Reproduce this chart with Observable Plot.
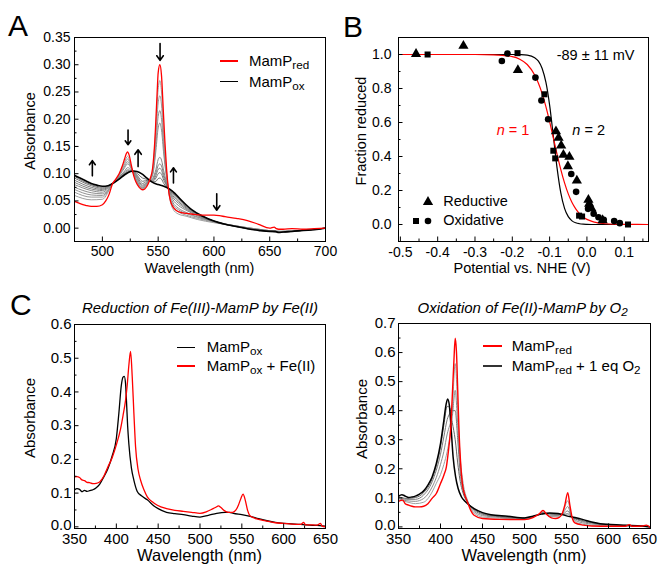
<!DOCTYPE html>
<html><head><meta charset="utf-8">
<script src="https://cdn.jsdelivr.net/npm/d3@7"></script>
<script src="https://cdn.jsdelivr.net/npm/@observablehq/plot@0.6"></script>
<style>
body{margin:0;background:#fff;}
#fig{position:relative;width:661px;height:565px;overflow:hidden;font-family:"Liberation Sans",Arial,Helvetica,sans-serif;}
.t{position:absolute;white-space:nowrap;line-height:1;color:#000;}
.sub{font-size:0.78em;position:relative;top:0.26em;}
</style></head><body><div id="fig"></div>
<script>
// ---------------- Panel A data ----------------
const aRedWl = [475,480,485,490,495,500,503,506,509,512,515,518,520,521.5,522.5,524,526,528,530,533,536,538,541,543,545,547,549,550,551.5,553,554.5,556,557.5,559,561,563,566,570,580,590,600,605,610,620,630,640,650,654,656,658,662,670,680,690,700];
const aRedAbs = [0.049,0.045,0.042,0.040,0.040,0.043,0.050,0.062,0.081,0.090,0.100,0.115,0.128,0.137,0.140,0.134,0.115,0.097,0.085,0.075,0.0705,0.072,0.081,0.092,0.110,0.160,0.245,0.285,0.300,0.280,0.220,0.160,0.110,0.075,0.050,0.040,0.033,0.029,0.026,0.024,0.024,0.023,0.021,0.018,0.014,0.007,0.000,0.002,-0.001,-0.002,-0.002,-0.001,-0.002,-0.001,0.000];
const aOxWl = [475,480,485,490,495,500,505,510,515,520,525,528,531,535,540,545,550,555,560,565,570,575,580,590,600,610,620,630,640,650,655,658,662,670,680,690,700];
const aOxAbs = [0.097,0.092,0.087,0.082,0.079,0.077,0.078,0.083,0.090,0.098,0.104,0.105,0.104,0.100,0.092,0.084,0.080,0.077,0.072,0.064,0.053,0.043,0.034,0.022,0.013,0.007,0.003,-0.001,-0.004,-0.006,-0.006,-0.008,-0.007,-0.006,-0.004,-0.003,0.000];
const aGreyWl = [475,490,500,509,515,520,522.5,526,530,536,541,545,548,550,551.5,553,555,559,563,568,575,585,600,620,640,660,680,700];
const aGrey1 = [.060,.052,.053,.081,.099,.122,.132,.112,.087,.072,.082,.105,.188,.255,.271,.250,.172,.074,.036,.026,.022,.016,.010,.004,-.002,-.006,-.004,0];
const aGrey2 = [.066,.057,.057,.081,.098,.118,.127,.111,.089,.073,.083,.102,.170,.230,.243,.226,.158,.074,.040,.030,.024,.018,.011,.004,-.002,-.006,-.004,0];
const aGrey3 = [.071,.061,.060,.081,.097,.114,.122,.110,.090,.074,.084,.099,.155,.205,.216,.200,.146,.074,.044,.034,.027,.020,.012,.004,-.002,-.006,-.004,0];
const aGrey4 = [.075,.065,.063,.081,.096,.111,.118,.109,.091,.075,.085,.097,.143,.184,.193,.180,.136,.074,.048,.037,.029,.021,.012,.004,-.003,-.006,-.004,0];
const aGrey5 = [.080,.069,.066,.082,.094,.105,.111,.107,.094,.077,.085,.091,.108,.126,.130,.125,.105,.074,.053,.042,.033,.023,.012,.003,-.003,-.007,-.004,0];
const aGrey6 = [.084,.072,.069,.082,.093,.103,.107,.106,.096,.079,.086,.089,.102,.115,.118,.114,.098,.073,.057,.046,.035,.024,.012,.003,-.003,-.007,-.004,0];
const aGrey7 = [.088,.075,.071,.082,.092,.101,.105,.105,.098,.082,.087,.087,.097,.108,.110,.106,.093,.073,.060,.049,.037,.025,.013,.003,-.003,-.007,-.004,0];
const aGrey8 = [.092,.078,.073,.082,.091,.100,.103,.104,.100,.086,.088,.086,.092,.100,.102,.099,.088,.073,.063,.052,.039,.026,.013,.003,-.004,-.007,-.004,0];
const aGrey9 = [.095,.080,.075,.082,.090,.099,.102,.104,.102,.092,.089,.085,.086,.091,.092,.090,.082,.073,.065,.055,.041,.027,.013,.003,-.004,-.007,-.004,0];
const aArrowWl = [491,523,532,551.7,563.7,602.5];
const aArrowFrom = [0.096,0.180,0.113,0.339,0.083,0.063];
const aArrowTo = [0.124,0.153,0.144,0.308,0.111,0.033];
const aXTicks = [500,550,600,650,700];
const aXMinor = [525,575,625,675];
const aYTicks = [0,0.05,0.10,0.15,0.20,0.25,0.30,0.35];
const aYMinor = [0.025,0.075,0.125,0.175,0.225,0.275,0.325];

// ---------------- Panel B data ----------------
const bRedV = [-0.458,-0.331,-0.185,-0.083,-0.076,-0.069,-0.063,-0.047,-0.051,-0.027,0.004,0.006,0.012,0.042];
const bRedF = [1.003,1.051,0.908,0.548,0.510,0.464,0.410,0.398,0.343,0.258,0.145,0.122,0.095,0.025];
const bSqV = [-0.427,-0.186,-0.114,-0.090,-0.085,-0.021,-0.013,0.110];
const bSqF = [1.0,1.008,0.766,0.434,0.389,0.052,0.047,0.0];
const bCiV = [-0.228,-0.213,-0.138,-0.122,-0.104,-0.042,-0.029,0.003,0.018,0.031,0.045,0.073,0.088];
const bCiF = [0.962,1.006,0.864,0.729,0.619,0.297,0.192,0.092,0.063,0.043,0.028,0.020,0.008];
const bFitV = [-0.505,-0.3,-0.25,-0.2,-0.18,-0.16,-0.14,-0.13,-0.12,-0.11,-0.10,-0.09,-0.08,-0.07,-0.06,-0.05,-0.04,-0.03,-0.02,-0.01,0,0.02,0.05,0.1,0.165];
const bFitN1 = [1.0,1.0,0.998,0.987,0.972,0.941,0.879,0.831,0.770,0.693,0.605,0.510,0.413,0.323,0.245,0.180,0.129,0.092,0.064,0.044,0.030,0.014,0.0045,0.0006,0.0];
const bFitN2 = [1,1,1,1,0.999,0.996,0.981,0.961,0.918,0.837,0.702,0.519,0.332,0.186,0.095,0.046,0.0215,0.010,0.0046,0.002,0.001,0,0,0,0];
const bXTicks = [-0.5,-0.4,-0.3,-0.2,-0.1,0.0,0.1];
const bXMinor = [-0.45,-0.35,-0.25,-0.15,-0.05,0.05,0.15];
const bYTicks = [0,0.2,0.4,0.6,0.8,1.0];
const bYMinor = [0.1,0.3,0.5,0.7,0.9];

// ---------------- Panel C (left) data ----------------
const cLRedWl = [350,353,356,359,362,365,368,372,376,380,385,390,395,400,405,408,411,413,415,417,419,421,423,426,429,433,437,443,449,460,470,480,490,500,508,515,519,522,525,529,534,539,543,546,549,551.5,554,557,560,570,580,590,600,610,620,624,626,630,640,644,646,650];
const cLRedAbs = [0.148,0.149,0.146,0.139,0.137,0.132,0.131,0.128,0.129,0.133,0.150,0.178,0.205,0.243,0.290,0.330,0.375,0.420,0.480,0.520,0.445,0.336,0.237,0.170,0.138,0.110,0.089,0.074,0.064,0.054,0.049,0.046,0.043,0.040,0.045,0.053,0.058,0.062,0.057,0.048,0.043,0.043,0.050,0.065,0.085,0.097,0.080,0.048,0.032,0.022,0.017,0.012,0.010,0.008,0.007,0.013,0.006,0.006,0.005,0.010,0.002,0.0];
const cLOxWl = [350,353,356,359,362,365,368,372,376,380,385,390,395,400,403,406,408,409.5,411,412,413.5,415,418,421,425,430,437,445,450,460,470,480,490,500,510,520,530,535,540,550,560,570,580,590,600,620,640,650];
const cLOxAbs = [0.109,0.113,0.111,0.104,0.108,0.105,0.107,0.110,0.116,0.126,0.148,0.173,0.210,0.262,0.336,0.420,0.444,0.446,0.425,0.380,0.300,0.245,0.175,0.138,0.105,0.092,0.080,0.062,0.054,0.043,0.039,0.036,0.032,0.029,0.034,0.040,0.043,0.043,0.040,0.036,0.031,0.024,0.018,0.013,0.010,0.007,0.004,0.002];
const cXTicks = [350,400,450,500,550,600,650];
const cXMinor = [375,425,475,525,575,625];
const cLYTicks = [0,0.1,0.2,0.3,0.4,0.5,0.6];
const cLYMinor = [0.05,0.15,0.25,0.35,0.45,0.55];

// ---------------- Panel C (right) data ----------------
const cRRedWl = [350,355,358,362,366,370,375,380,385,390,395,400,404,407,410,412,414,416,417.5,419,420.5,422,424,426,429,432,436,440,450,470,500,510,518,522,526,532,537,541,545,548,551.5,554,557,560,570,580,600,620,625,628,640,645,650];
const cRRedAbs = [0.088,0.092,0.080,0.075,0.071,0.069,0.069,0.071,0.080,0.098,0.115,0.149,0.178,0.207,0.276,0.333,0.448,0.574,0.649,0.603,0.471,0.333,0.218,0.149,0.109,0.086,0.057,0.040,0.029,0.026,0.025,0.032,0.046,0.057,0.044,0.031,0.029,0.032,0.046,0.075,0.118,0.075,0.029,0.014,0.006,0.003,0.002,0.002,0.008,0.002,0.003,0.006,-0.002];
const cROxWl = [350,354,358,362,366,370,375,380,385,390,395,400,404,406.5,408.5,410.5,412.5,415,418,421,425,430,440,450,460,480,500,510,520,530,540,550,560,570,580,590,600,620,640,650];
const cROxAbs = [0.106,0.111,0.106,0.101,0.103,0.106,0.113,0.124,0.144,0.172,0.218,0.287,0.367,0.419,0.440,0.419,0.345,0.241,0.172,0.132,0.103,0.086,0.063,0.049,0.042,0.037,0.031,0.037,0.044,0.048,0.046,0.038,0.032,0.025,0.017,0.011,0.009,0.006,0.003,0.000];
const cRGreyWl = [350,360,370,380,390,395,400,404,408,411,414,417.5,420.5,423,427,432,440,450,470,500,515,522,530,540,546,551.5,556,565,580,600,625,650];
const cRGrey1 = [.093,.086,.080,.085,.120,.150,.180,.215,.26,.31,.40,.562,.41,.26,.15,.093,.048,.034,.030,.027,.040,.052,.036,.035,.053,.090,.035,.012,.006,.004,.003,0];
const cRGrey2 = [.097,.090,.088,.098,.137,.170,.215,.26,.32,.35,.38,.470,.35,.23,.135,.090,.053,.039,.033,.028,.040,.050,.040,.039,.048,.070,.036,.017,.010,.006,.004,0];
const cRGrey3 = [.101,.095,.095,.110,.155,.195,.250,.31,.37,.39,.40,.40,.30,.20,.125,.088,.058,.043,.035,.030,.040,.048,.044,.042,.045,.055,.036,.022,.013,.007,.004,0];
const cRGrey4 = [.104,.098,.101,.118,.165,.210,.275,.35,.415,.41,.36,.30,.22,.165,.115,.086,.061,.046,.037,.031,.040,.046,.046,.044,.043,.045,.035,.025,.015,.008,.005,0];
const cRYTicks = [0,0.1,0.2,0.3,0.4,0.5,0.6,0.7];
const cRYMinor = [0.05,0.15,0.25,0.35,0.45,0.55,0.65];

// ---------------- helpers ----------------
const FONT = "'Liberation Sans', Arial, Helvetica, sans-serif";
const fig = document.getElementById("fig");
const RED = "#ff0000";

function txt(html, x, baseline, fs, o = {}) {
  const d = document.createElement("div");
  d.className = "t";
  d.innerHTML = html;
  d.style.fontSize = fs + "px";
  if (o.italic) d.style.fontStyle = "italic";
  if (o.color) d.style.color = o.color;
  d.style.left = x + "px";
  if (o.rotate) {
    d.style.top = baseline + "px";
    d.style.transform = "translate(-50%,-50%) rotate(-90deg)";
  } else {
    d.style.top = (baseline - 0.85 * fs) + "px";
    if (o.anchor === "middle") d.style.transform = "translateX(-50%)";
  }
  fig.appendChild(d);
}
function legLine(x, y, w, color, sw) {
  const d = document.createElement("div");
  d.style.cssText = `position:absolute;left:${x}px;top:${y - sw / 2}px;width:${w}px;height:${sw}px;background:${color};`;
  fig.appendChild(d);
}
function legSym(type, cx, cy, r) {
  const sym = {triangle: d3.symbolTriangle, square: d3.symbolSquare, circle: d3.symbolCircle}[type];
  const path = d3.symbol(sym, Math.PI * r * r)();
  const d = document.createElement("div");
  d.style.cssText = `position:absolute;left:${cx - 8}px;top:${cy - 8}px;width:16px;height:16px;`;
  d.innerHTML = `<svg width="16" height="16"><path transform="translate(8,8)" d="${path}" fill="#000"/></svg>`;
  fig.appendChild(d);
}
function ticks(xMaj, xMin, yMaj, yMin, iw, ih) {
  return [
    Plot.tickX(xMaj, {x: d => d, insetTop: ih - 4.5, stroke: "#000"}),
    Plot.tickX(xMin, {x: d => d, insetTop: ih - 2.5, stroke: "#000"}),
    Plot.tickY(yMaj, {y: d => d, insetRight: iw - 4.5, stroke: "#000"}),
    Plot.tickY(yMin, {y: d => d, insetRight: iw - 2.5, stroke: "#000"})
  ];
}
function line(xs, ys, stroke, sw) {
  return Plot.line(xs, {x: xs, y: ys, stroke, strokeWidth: sw, curve: "monotone-x", clip: true});
}
function put(svg, left, top) {
  svg.style.position = "absolute";
  svg.style.left = left + "px";
  svg.style.top = top + "px";
  fig.appendChild(svg);
}
const baseStyle = fs => ({fontFamily: FONT, fontSize: fs + "px", color: "#000", background: "transparent", overflow: "visible"});
// y-axis labels for panel C: the zero label is lifted slightly so it clears the x labels
function cYAxis(yTicks) {
  return [
    Plot.axisY(yTicks.slice(1), {tickSize: 0, tickPadding: 3, label: null, tickFormat: d => d.toFixed(1)}),
    Plot.axisY(yTicks.slice(0, 1), {tickSize: 0, tickPadding: 3, label: null, dy: -2, tickFormat: d => d.toFixed(1)})
  ];
}

// ---------------- Panel A ----------------
const aGreys = [aGrey1, aGrey2, aGrey3, aGrey4, aGrey5, aGrey6, aGrey7, aGrey8, aGrey9];
const aGreyColors = ["#a0a0a0","#9a9a9a","#949494","#8e8e8e","#888888","#828282","#7c7c7c","#767676","#6e6e6e"];
const plotA = Plot.plot({
  width: 330, height: 280, marginLeft: 74, marginRight: 5, marginTop: 37, marginBottom: 39,
  x: {domain: [475, 700]}, y: {domain: [-0.0245, 0.35]},
  style: baseStyle(14),
  marks: [
    ...aGreys.map((g, i) => line(aGreyWl, g, aGreyColors[i], 1)),
    line(aOxWl, aOxAbs, "#000", 1.6),
    line(aRedWl, aRedAbs, RED, 1.3),
    Plot.arrow(aArrowWl, {x1: aArrowWl, x2: aArrowWl, y1: aArrowFrom, y2: aArrowTo, stroke: "#000", strokeWidth: 1.6, headLength: 6, headAngle: 70}),
    ...ticks(aXTicks, aXMinor, aYTicks, aYMinor, 251, 204),
    Plot.axisX(aXTicks, {tickSize: 0, tickPadding: 5, label: null, tickFormat: d => String(d)}),
    Plot.axisY(aYTicks, {tickSize: 0, tickPadding: 4, label: null, tickFormat: d => d.toFixed(2)}),
    Plot.frame({stroke: "#000", strokeWidth: 1})
  ]
});
put(plotA, 0, 0);

// ---------------- Panel B ----------------
const plotB = Plot.plot({
  width: 331, height: 280, marginLeft: 68, marginRight: 13, marginTop: 37, marginBottom: 39,
  x: {domain: [-0.505, 0.165]}, y: {domain: [-0.1, 1.1]},
  style: baseStyle(14),
  marks: [
    line(bFitV, bFitN2, "#000", 1.2),
    line(bFitV, bFitN1, RED, 1.2),
    Plot.dot(bRedV, {x: bRedV, y: bRedF, symbol: "triangle", r: 3.8, fill: "#000"}),
    Plot.dot(bSqV, {x: bSqV, y: bSqF, symbol: "square", r: 3.4, fill: "#000"}),
    Plot.dot(bCiV, {x: bCiV, y: bCiF, symbol: "circle", r: 3.3, fill: "#000"}),
    ...ticks(bXTicks, bXMinor, bYTicks, bYMinor, 250, 204),
    Plot.axisX(bXTicks, {tickSize: 0, tickPadding: 6, label: null, tickFormat: d => d.toFixed(1)}),
    Plot.axisY(bYTicks, {tickSize: 0, tickPadding: 7, label: null, tickFormat: d => d.toFixed(1)}),
    Plot.frame({stroke: "#000", strokeWidth: 1})
  ]
});
put(plotB, 330, 0);

// ---------------- Panel C left ----------------
const plotCL = Plot.plot({
  width: 330, height: 285, marginLeft: 74, marginRight: 5, marginTop: 44, marginBottom: 37,
  x: {domain: [350, 650]}, y: {domain: [-0.005, 0.6]},
  style: baseStyle(15),
  marks: [
    line(cLOxWl, cLOxAbs, "#000", 1.3),
    line(cLRedWl, cLRedAbs, RED, 1.3),
    ...ticks(cXTicks, cXMinor, cLYTicks, cLYMinor, 251, 204),
    Plot.axisX(cXTicks, {tickSize: 0, tickPadding: 5, label: null, tickFormat: d => String(d)}),
    ...cYAxis(cLYTicks),
    Plot.frame({stroke: "#000", strokeWidth: 1})
  ]
});
put(plotCL, 0, 280);

// ---------------- Panel C right ----------------
const cRGreys = [cRGrey1, cRGrey2, cRGrey3, cRGrey4];
const cRGreyColors = ["#a0a0a0","#8c8c8c","#787878","#646464"];
const cRXFirst = cXTicks.slice(0, -1);
const cRXLast = cXTicks.slice(-1);
const plotCR = Plot.plot({
  width: 331, height: 285, marginLeft: 68, marginRight: 11, marginTop: 43, marginBottom: 37,
  x: {domain: [350, 650]}, y: {domain: [-0.0055, 0.7]},
  style: baseStyle(15),
  marks: [
    ...cRGreys.map((g, i) => line(cRGreyWl, g, cRGreyColors[i], 1)),
    line(cROxWl, cROxAbs, "#000", 1.5),
    line(cRRedWl, cRRedAbs, RED, 1.4),
    ...ticks(cXTicks, cXMinor, cRYTicks, cRYMinor, 252, 205),
    Plot.axisX(cRXFirst, {tickSize: 0, tickPadding: 5, label: null, tickFormat: d => String(d)}),
    Plot.axisX(cRXLast, {tickSize: 0, tickPadding: 5, label: null, dx: -6, tickFormat: d => String(d)}),
    ...cYAxis(cRYTicks),
    Plot.frame({stroke: "#000", strokeWidth: 1})
  ]
});
put(plotCR, 330, 280);

// ---------------- Text, legends, labels ----------------
txt("A", 8, 36.7, 30);
txt("B", 343, 37, 30);
txt("C", 10, 315, 30);

// axis titles
txt("Absorbance", 30, 130.5, 14.5, {rotate: true});
txt("Wavelength (nm)", 199.5, 273.5, 14.5, {anchor: "middle"});
txt("Fraction reduced", 360.5, 130.5, 14.5, {rotate: true});
txt("Potential vs. NHE (V)", 522, 273.5, 14.5, {anchor: "middle"});
txt("Absorbance", 29, 418, 15, {rotate: true});
txt("Wavelength (nm)", 199.5, 561, 16.5, {anchor: "middle"});
txt("Absorbance", 360.5, 419, 15, {rotate: true});
txt("Wavelength (nm)", 524, 561, 16.5, {anchor: "middle"});

// panel C subtitles
txt("Reduction of Fe(III)-MamP by Fe(II)", 200, 312.7, 15, {anchor: "middle", italic: true});
txt('Oxidation of Fe(II)-MamP by O<span class="sub">2</span>', 522.7, 312.7, 15, {anchor: "middle", italic: true});

// A legend
legLine(220, 61, 18, RED, 1.6);
txt('MamP<span class="sub">red</span>', 249, 66, 15);
legLine(220, 81.7, 18, "#000", 1.6);
txt('MamP<span class="sub">ox</span>', 249, 86.5, 15);

// B annotations & legend
txt("-89 ± 11 mV", 556.7, 60, 14.5);
txt("<i>n</i> = 1", 496.7, 135.7, 14.5, {color: RED});
txt("<i>n</i> = 2", 572.3, 135.7, 14.5);
legSym("triangle", 427.7, 201.5, 3.8);
txt("Reductive", 443.3, 206, 14.5);
legSym("square", 415.7, 221, 3.4);
legSym("circle", 427.7, 221, 3.3);
txt("Oxidative", 443.3, 225.5, 14.5);

// C left legend
legLine(176.7, 347.7, 18.5, "#000", 1.6);
txt('MamP<span class="sub">ox</span>', 206.7, 351.5, 15);
legLine(176.7, 366, 18.5, RED, 1.6);
txt('MamP<span class="sub">ox</span> + Fe(II)', 206.7, 371, 15);

// C right legend
legLine(482.7, 345.7, 19, RED, 1.8);
txt('MamP<span class="sub">red</span>', 511.7, 351, 15);
legLine(482.7, 366, 19, "#333", 1.6);
txt('MamP<span class="sub">red</span> + 1 eq O<span class="sub">2</span>', 511.7, 371, 15);
</script></body></html>
